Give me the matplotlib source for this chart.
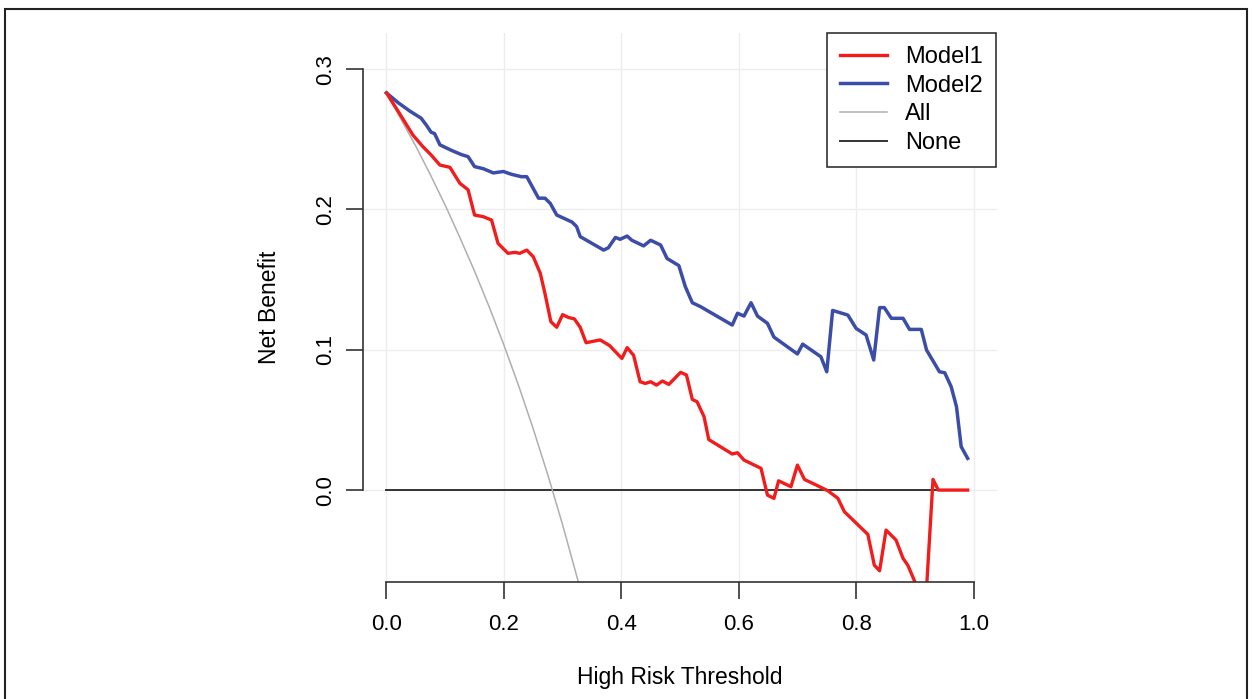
#!/usr/bin/env python3
# -*- coding: utf-8 -*-

import matplotlib.pyplot as plt
import matplotlib as mpt
from matplotlib.patches import Rectangle

# decision curve values
M1_X = [0.000, 0.022, 0.045, 0.062, 0.076, 0.091, 0.108, 0.125, 0.139, 0.150,
        0.165, 0.179, 0.190, 0.207, 0.219, 0.227, 0.239, 0.250, 0.262, 0.270,
        0.280, 0.290, 0.300, 0.310, 0.320, 0.330, 0.340, 0.364, 0.380, 0.401,
        0.410, 0.421, 0.432, 0.441, 0.450, 0.460, 0.470, 0.481, 0.501, 0.511,
        0.521, 0.529, 0.541, 0.549, 0.589, 0.598, 0.609, 0.638, 0.649, 0.660,
        0.668, 0.689, 0.700, 0.712, 0.732, 0.752, 0.769, 0.780, 0.820, 0.831,
        0.840, 0.851, 0.868, 0.880, 0.888, 0.910, 0.920, 0.931, 0.940, 0.990]
M1_Y = [0.283, 0.2685, 0.253, 0.2447, 0.2388, 0.2316, 0.230, 0.2186, 0.214, 0.196,
        0.1948, 0.1924, 0.1758, 0.1687, 0.1694, 0.1687, 0.171, 0.1663, 0.1545, 0.140,
        0.120, 0.116, 0.125, 0.123, 0.122, 0.116, 0.105, 0.107, 0.103, 0.0938,
        0.1015, 0.096, 0.0772, 0.0760, 0.0772, 0.0748, 0.0777, 0.0753, 0.0839, 0.082,
        0.0646, 0.063, 0.0523, 0.036, 0.0257, 0.0266, 0.0214, 0.0155, -0.0036, -0.0059,
        0.0066, 0.0024, 0.0178, 0.0076, 0.0036, -0.0005, -0.0059, -0.0154, -0.0316, -0.0535,
        -0.0575, -0.0285, -0.0356, -0.0487, -0.0535, -0.075, -0.070, 0.0076, 0.0, 0.0]

M2_X = [0.000, 0.020, 0.040, 0.059, 0.068, 0.076, 0.082, 0.091, 0.111, 0.128,
        0.139, 0.150, 0.165, 0.182, 0.199, 0.213, 0.230, 0.239, 0.259, 0.270,
        0.279, 0.290, 0.316, 0.324, 0.330, 0.370, 0.378, 0.390, 0.398, 0.410,
        0.418, 0.438, 0.450, 0.467, 0.478, 0.498, 0.509, 0.521, 0.535, 0.589,
        0.598, 0.609, 0.621, 0.632, 0.649, 0.660, 0.700, 0.709, 0.740, 0.750,
        0.760, 0.786, 0.800, 0.817, 0.830, 0.840, 0.848, 0.860, 0.880, 0.891,
        0.911, 0.920, 0.942, 0.951, 0.962, 0.971, 0.979, 0.990]
M2_Y = [0.283, 0.276, 0.270, 0.265, 0.260, 0.255, 0.254, 0.246, 0.242, 0.239,
        0.2376, 0.2305, 0.229, 0.226, 0.227, 0.225, 0.2233, 0.2233, 0.208, 0.208,
        0.2043, 0.196, 0.191, 0.1877, 0.1806, 0.171, 0.1727, 0.180, 0.1787, 0.181,
        0.178, 0.174, 0.178, 0.1746, 0.165, 0.160, 0.145, 0.1335, 0.1307, 0.1176,
        0.126, 0.124, 0.1335, 0.124, 0.1188, 0.109, 0.097, 0.104, 0.095, 0.0843,
        0.128, 0.1247, 0.1152, 0.1105, 0.0927, 0.130, 0.130, 0.1224, 0.1224, 0.1145,
        0.1145, 0.0998, 0.0843, 0.0836, 0.0736, 0.0594, 0.0309, 0.0226]

ALL_X = [0.0, 0.025, 0.05, 0.075, 0.1, 0.125, 0.15, 0.175, 0.2, 0.225,
         0.25, 0.275, 0.3, 0.325, 0.35]
ALL_Y = [0.283, 0.264, 0.245, 0.2245, 0.203, 0.180, 0.156, 0.1305, 0.1034, 0.0745,
         0.0436, 0.0106, -0.0247, -0.0627, -0.1035]

NONE_X = [0.0, 0.99]
NONE_Y = [0.0, 0.0]

LABELS = ["Model1", "Model2", "All", "None"]
XTICKS = [0.0, 0.2, 0.4, 0.6, 0.8, 1.0]
YTICKS = [0.0, 0.1, 0.2, 0.3]

font = {'family': 'Liberation Sans', 'size': 16}
mpt.rc('font', **font)

W, H = 1252, 699
fig = plt.figure(figsize=[W/100, H/100], dpi=100)
ax = fig.add_axes([363/W, 1-582/H, (997-363)/W, (582-33)/H])

ax.set_xlim(-0.04, 1.04)
ax.set_ylim(-0.0655, 0.3257)

ax.grid(color='#EBEDEF', lw=1.0)
ax.set_axisbelow(True)

l4, = ax.plot(NONE_X, NONE_Y, color='#333333', lw=1.4)
l3, = ax.plot(ALL_X, ALL_Y, color='#AFAFAF', lw=1.1)
l2, = ax.plot(M2_X, M2_Y, color='#3B4DA8', lw=2.5)
l1, = ax.plot(M1_X, M1_Y, color='#F21C1C', lw=2.4)

leg = ax.legend([l1, l2, l3, l4], LABELS, loc='upper right', bbox_to_anchor=(0.998, 1),
                borderaxespad=0, fancybox=False, edgecolor='#333333', framealpha=1,
                handlelength=2.0, handletextpad=0.75, labelspacing=0.28, borderpad=0.55,
                fontsize=17)
leg.get_frame().set_linewidth(1.2)

for s in ['top', 'right']:
  ax.spines[s].set_visible(False)
for s in ['left', 'bottom']:
  ax.spines[s].set_color('#333333')
  ax.spines[s].set_linewidth(1.2)
ax.spines['left'].set_bounds(0, 0.3)
ax.spines['bottom'].set_bounds(0, 1)

ax.set_xticks(XTICKS)
ax.set_yticks(YTICKS)
ax.set_xticklabels(["%.1f" % v for v in XTICKS])
ax.set_yticklabels(["%.1f" % v for v in YTICKS], rotation=90, va='center')
ax.tick_params(direction='out', length=12, width=1.2, color='#333333')
ax.tick_params(axis='x', pad=11)
ax.tick_params(axis='y', pad=7)

ax.set_xlabel('High Risk Threshold', fontsize=16.5)
ax.set_ylabel('Net Benefit', fontsize=16.5)
ax.xaxis.set_label_coords(0.5, -0.153)
ax.yaxis.set_label_coords(-0.129, 0.5)

# frame round the whole picture
fig.patches.append(Rectangle((5/W, -0.05), (1247-5)/W, 1-9/H+0.05, transform=fig.transFigure,
                             fill=False, ec='#222222', lw=1.5))

plt.savefig('out.png')
